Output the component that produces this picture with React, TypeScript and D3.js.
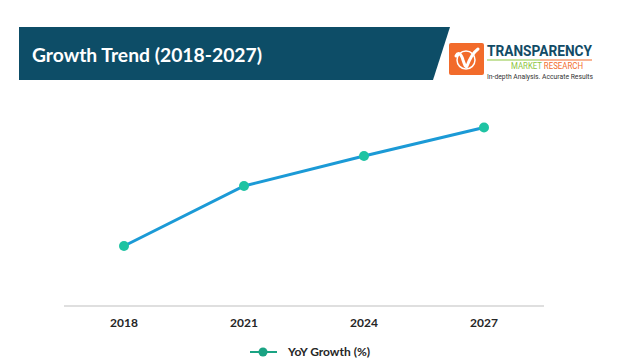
import React from "react";
import * as d3 from "d3";

const categories = ["2018", "2021", "2024", "2027"];
const yoyGrowth = [2.0, 4.0, 5.0, 5.95];
const seriesName = "YoY Growth (%)";
const title = "Growth Trend (2018-2027)";

export default function App() {
  const W = 628, H = 361;
  const x = d3.scaleBand<string>().domain(categories).range([64, 544]).padding(0);
  const y = d3.scaleLinear().domain([0, 6.5]).range([306, 111]);
  const cx = (c: string) => (x(c) as number) + x.bandwidth() / 2;
  const line = d3.line<number>().x((_, i) => cx(categories[i])).y((v) => y(v));
  const font = "Lato, 'Open Sans', sans-serif";
  return (
    <div style={{ position: "absolute", left: 0, top: 0 }}>
      <svg width={W} height={H} style={{ display: "block", background: "#fff" }}>
        <polygon points="19,27 450,27 433,80 19,80" fill="#0d4d67" />
        <text x={32} y={62} fill="#fff" fontFamily={font} fontWeight={700} fontSize={19} textLength={230} lengthAdjust="spacingAndGlyphs">{title}</text>
        {/* logo */}
        <rect x={449} y={43} width={35} height={32} rx={2} fill="#f26b2b" />
        <path d="M456,56 C458,52 461,53 463,60 C465,66 466,68 467,66 C470,58 474,52 478,49" fill="none" stroke="#fff" strokeWidth={3} strokeLinecap="round" />
        <circle cx={466} cy={60} r={9} fill="none" stroke="#fff" strokeWidth={1.5} />
        <text x={487} y={56} fill="#124b66" fontFamily="'Liberation Sans Narrow', 'Roboto', sans-serif" fontWeight={700} fontSize={15} textLength={105} lengthAdjust="spacingAndGlyphs">TRANSPARENCY</text>
        <line x1={487} y1={60} x2={540} y2={60} stroke="#8dc63f" strokeWidth={1} />
        <line x1={540} y1={60} x2={592} y2={60} stroke="#f26b2b" strokeWidth={1} />
        <text x={511} y={69} fontFamily="'Roboto', sans-serif" fontSize={8.5} textLength={72} lengthAdjust="spacingAndGlyphs">
          <tspan fill="#8dc63f">MARKET </tspan><tspan fill="#f26b2b">RESEARCH</tspan>
        </text>
        <text x={487} y={79} fill="#333" fontFamily="'Roboto', sans-serif" fontSize={7.5} textLength={106} lengthAdjust="spacingAndGlyphs">In-depth Analysis. Accurate Results</text>

        <line x1={64} x2={544} y1={306} y2={306} stroke="#bfbfbf" strokeWidth={1} />
        <path d={line(yoyGrowth) || ""} fill="none" stroke="#1b9ad6" strokeWidth={3} />
        {yoyGrowth.map((v, i) => (
          <circle key={i} cx={cx(categories[i])} cy={y(v)} r={5} fill="#1fc3a3" />
        ))}
        {categories.map((c) => (
          <text key={c} x={cx(c)} y={327} textAnchor="middle" fontFamily={font} fontWeight={700} fontSize={12} fill="#262626">{c}</text>
        ))}
        <line x1={250} x2={277} y1={352} y2={352} stroke="#1aa383" strokeWidth={2} />
        <circle cx={263} cy={352} r={4.5} fill="#1aa383" />
        <text x={288} y={356} fontFamily={font} fontWeight={700} fontSize={12} fill="#262626">{seriesName}</text>
      </svg>
    </div>
  );
}
